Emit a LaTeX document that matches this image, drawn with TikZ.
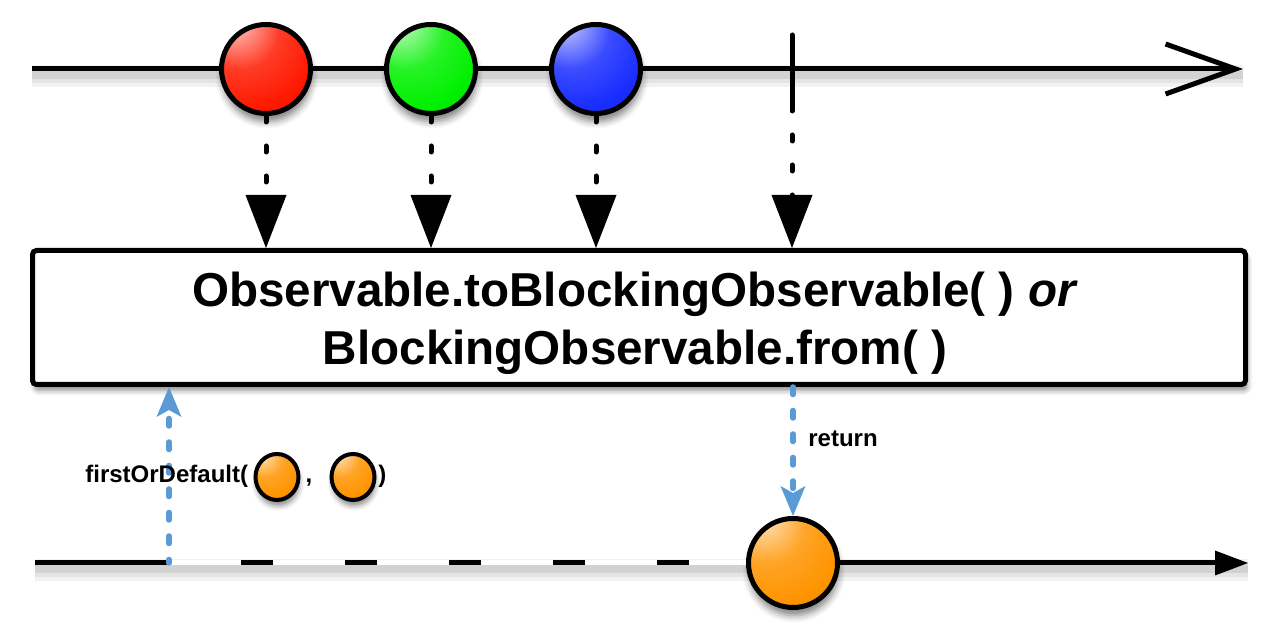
\documentclass[tikz,border=0pt]{standalone}
\usepackage{fontspec}
\setmainfont{Liberation Sans}
\usetikzlibrary{arrows.meta,shapes.geometric,shadows.blur}

\definecolor{callblue}{RGB}{91,155,213}
\definecolor{mred}{RGB}{255,25,0}
\definecolor{mgreen}{RGB}{0,240,0}
\definecolor{mblue}{RGB}{25,45,255}
\definecolor{morange}{RGB}{255,148,0}
\colorlet{marblecol}{mred}

% glossy marble: highlight up-left, darker towards the lower right
\pgfdeclareradialshading[marblecol]{marble}{\pgfpoint{-20bp}{30bp}}{%
  color(0bp)=(marblecol!5!white);
  color(8bp)=(marblecol!40!white);
  color(22bp)=(marblecol!85!white);
  color(38bp)=(marblecol);
  color(58bp)=(marblecol!80!black);
  color(82bp)=(marblecol!45!black)}

\tikzset{
  timeline/.style={line width=2.5pt, line cap=butt},
  lineshade/.style={
    preaction={draw=black, draw opacity=0.05, line width=11pt, arrows=-, transform canvas={yshift=-3.5pt}},
    preaction={draw=black, draw opacity=0.06, line width=7pt, arrows=-, transform canvas={yshift=-3.5pt}},
    preaction={draw=black, draw opacity=0.08, line width=4pt, arrows=-, transform canvas={yshift=-3pt}}},
  marblecolor/.code={\colorlet{marblecol}{#1}\pgfkeysalso{shade, shading=marble}},
  marble/.style={circle, draw=black, line width=2.5pt, minimum size=44.5pt, inner sep=0pt,
    marblecolor=#1,
    blur shadow={shadow xshift=0.5pt, shadow yshift=-4pt, shadow blur radius=3.5pt, shadow opacity=50}},
  minimarble/.style={ellipse, draw=black, line width=2pt, minimum width=21.5pt, minimum height=23pt,
    inner sep=0pt, marblecolor=#1,
    blur shadow={shadow xshift=0.5pt, shadow yshift=-3pt, shadow blur radius=2.5pt, shadow opacity=45}},
  opbox/.style={rectangle, draw=black, fill=white, line width=2.5pt, rounded corners=2pt,
    minimum width=606.5pt, minimum height=67pt, inner sep=0pt,
    blur shadow={shadow xshift=1pt, shadow yshift=-3pt, shadow blur radius=2.5pt, shadow opacity=45}},
  optext/.style={align=center, inner sep=0pt, font=\fontsize{23.8}{29}\selectfont\bfseries},
  emit/.style={line width=2.5pt, line cap=round, dash pattern=on 3pt off 12pt,
    -{Triangle[length=26.5pt, width=20.5pt, line width=0pt]}},
  call/.style={callblue, line width=2.75pt, line cap=round, dash pattern=on 3.75pt off 8pt,
    -{Stealth[length=15pt, width=12.5pt, inset=3.5pt, line width=0pt]}},
  lbl/.style={inner sep=0pt, font=\fontsize{12}{14}\selectfont\bfseries},
}

\begin{document}
\begin{tikzpicture}[x=0.5pt, y=-0.5pt]
\useasboundingbox (0,0) rectangle (1280,640);

% source timeline with completion tick
\coordinate (srcstart) at (32,69);
\coordinate (srcend) at (1243,69);
\draw[timeline, lineshade, -{Straight Barb[length=35pt, width=25pt]}] (srcstart) -- (srcend);
\coordinate (stoptop) at (792,35);
\coordinate (stopbot) at (792,110);
\draw[timeline, line cap=round] (stoptop) -- (stopbot);

% emitted items
\node[marble=mred]   (m1) at (266,69) {};
\node[marble=mgreen] (m2) at (431,69) {};
\node[marble=mblue]  (m3) at (596,69) {};

% operator
\node[opbox] (op) at (639,317.5) {};
\node[optext] (optitle) at ([xshift=-2pt, yshift=-2.75pt]op.center)
  {Observable.toBlockingObservable( ) \textit{or}\\BlockingObservable.from( )};

% items flowing into the operator
\draw[emit] (m1.south) -- (m1.south |- op.north);
\draw[emit] (m2.south) -- (m2.south |- op.north);
\draw[emit] (m3.south) -- (m3.south |- op.north);
\draw[emit, dash phase=2.5pt] (stopbot) -- (stopbot |- op.north);

% result timeline
\coordinate (resstart) at (35,563);
\coordinate (resend) at (1248,563);
\draw[timeline, lineshade, -{Triangle[length=16.5pt, width=12.5pt, line width=0pt]}] (resstart) -- (resend);
\node[marble=morange] (bm) at (793,563) {};

% blocking wait section
\coordinate (waitstart) at (169,563);
\draw[white, line width=2.5pt] (waitstart) -- (bm.west);
\draw[timeline, dash pattern=on 16pt off 36pt, dash phase=16pt] (waitstart) -- (bm.west);

% call and return
\draw[call, dash phase=2pt] (waitstart) -- (waitstart |- op.south);
\draw[call] (op.south -| bm.north) -- (bm.north);

\node[lbl, anchor=base west] (retlabel) at (808,447) {return};
\node[lbl, anchor=base west] (callname) at (85,483) {firstOrDefault(};
\node[minimarble=morange] (d1) at (277,477) {};
\node[lbl, anchor=base] (comma) at (309,483) {,};
\node[minimarble=morange] (d2) at (353,477) {};
\node[lbl, anchor=base west] (closep) at (378,483) {)};
\end{tikzpicture}
\end{document}
